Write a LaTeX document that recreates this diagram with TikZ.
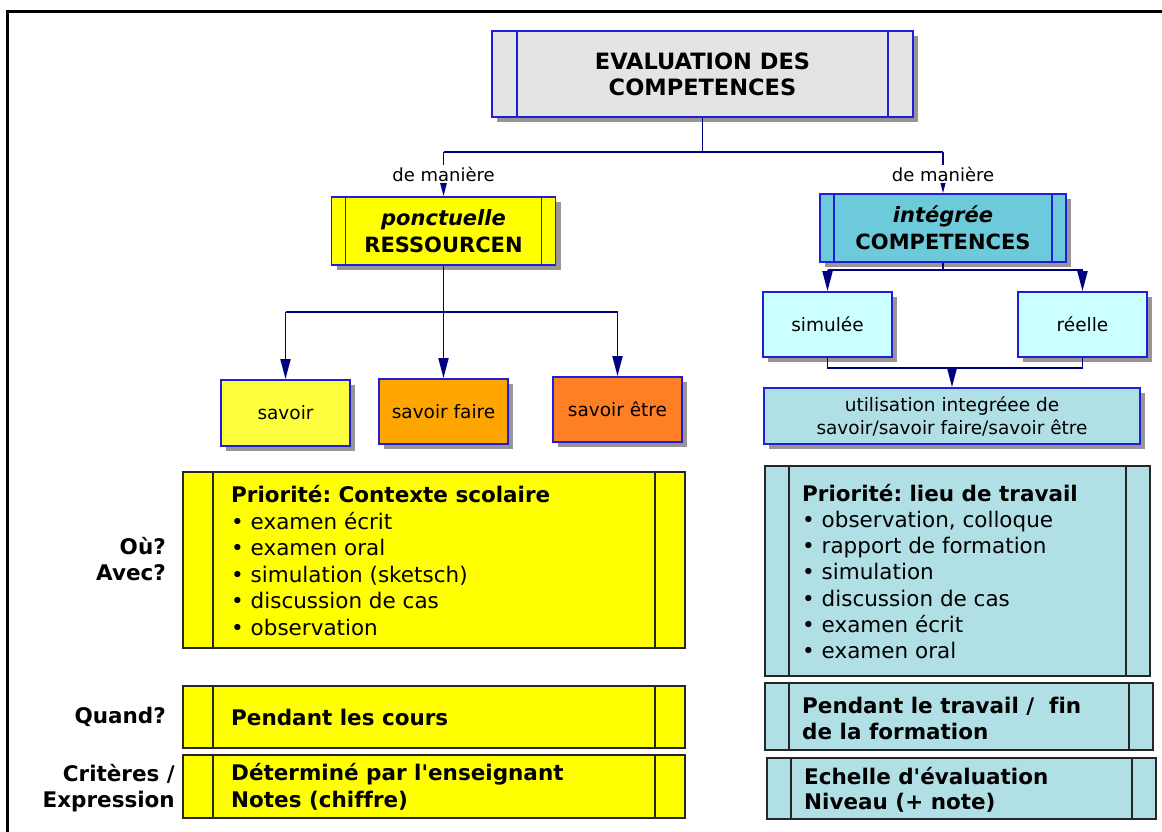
\documentclass[tikz,border=0pt]{standalone}
\usepackage{fontspec}
\setmainfont[Ligatures={NoCommon,TeXOff}]{DejaVu Sans}
\usetikzlibrary{arrows.meta,shadows}
\definecolor{boxblue}{RGB}{30,30,220}
\definecolor{navy}{RGB}{0,0,128}
\definecolor{shade}{RGB}{155,148,148}
\definecolor{titlegray}{RGB}{228,228,228}
\definecolor{ylw}{RGB}{255,255,0}
\definecolor{ylwlight}{RGB}{255,255,64}
\definecolor{orng}{RGB}{255,165,0}
\definecolor{orngred}{RGB}{255,127,36}
\definecolor{tealbox}{RGB}{108,202,218}
\definecolor{paleaqua}{RGB}{204,255,255}
\definecolor{powder}{RGB}{176,224,230}
\newcommand\fsz[2]{\fontsize{#1}{#2}\selectfont}
\frenchspacing

\begin{document}
\begin{tikzpicture}[x=1pt,y=-1pt,
  shadowed/.style={drop shadow={shadow xshift=5pt,shadow yshift=-5pt,fill=shade,opacity=1}},
  bluebox/.style={rectangle,draw=boxblue,line width=1.8pt,shadowed,inner sep=0pt},
  darkbox/.style={rectangle,draw=black!85,line width=1.8pt,inner sep=0pt},
  sized/.style n args={2}{minimum width=#1,minimum height=#2},
  bars/.style n args={2}{path picture={\draw[#2,line width=1.5pt]
      ([xshift=#1]path picture bounding box.north west) -- ([xshift=#1]path picture bounding box.south west)
      ([xshift=-#1]path picture bounding box.north east) -- ([xshift=-#1]path picture bounding box.south east);}},
  conn/.style={draw=navy,line width=1.8pt},
  arr/.style={conn,-{Triangle[length=20pt,width=10pt]}},
  bigtxt/.style={font=\fsz{21}{27}\bfseries,align=center},
  smalltxt/.style={font=\fsz{18.5}{23},align=center},
  listtxt/.style={font=\fsz{21.5}{26.6},align=left,anchor=west,inner sep=0pt},
  asklabel/.style={font=\fsz{21.5}{26}\bfseries,align=right,anchor=east,inner sep=0pt},
  wayLabel/.style={font=\fsz{18}{22},fill=white,inner sep=1.5pt}
]
\useasboundingbox (0,0) rectangle (1162,832);

% outer frame
\draw[line width=3pt] (7,832) -- (7,12) -- (1162,12);

% title
\node[bluebox,sized={421pt}{86pt},fill=titlegray,bars={25pt}{boxblue},bigtxt,font=\fsz{22.5}{26}\bfseries] (top) at (702.5,74) {EVALUATION DES\\COMPETENCES};

% the two ways of assessing
\node[bluebox,sized={224pt}{68pt},fill=ylw,bars={14pt}{boxblue},bigtxt] (ponct) at (443.5,231) {\textit{ponctuelle}\\RESSOURCEN};
\node[bluebox,sized={246pt}{68pt},fill=tealbox,bars={14pt}{boxblue},bigtxt] (integ) at (943,228) {\textit{intégrée}\\COMPETENCES};

% resources
\node[bluebox,sized={129pt}{66pt},fill=ylwlight,smalltxt] (savoir) at (285.5,413) {savoir};
\node[bluebox,sized={129pt}{65pt},fill=orng,smalltxt] (savoirfaire) at (443.5,411.5) {savoir faire};
\node[bluebox,sized={129pt}{65pt},fill=orngred,smalltxt] (savoiretre) at (617.5,409.5) {savoir être};

% competences
\node[bluebox,sized={129pt}{65pt},fill=paleaqua,smalltxt] (simulee) at (827.5,324.5) {simulée};
\node[bluebox,sized={129pt}{65pt},fill=paleaqua,smalltxt] (reelle) at (1082.5,324.5) {réelle};
\node[bluebox,sized={376pt}{56pt},fill=powder,smalltxt] (util) at (952,416) {utilisation integréee de\\savoir/savoir faire/savoir être};

% connectors
\coordinate (j0) at (702.5,152);
\coordinate (jl) at (443.5,152);
\coordinate (jr) at (943,152);
\draw[conn] (top.south) -- (j0);
\draw[conn] (jl) -- (jr);
\draw[arr] (jl) -- (ponct.north);
\draw[arr] (jr) -- (integ.north);
\node[wayLabel] (wl) at (443.5,174) {de manière};
\node[wayLabel] (wr) at (943,174) {de manière};

\coordinate (pl) at (285.5,312);
\coordinate (pr) at (617.5,312);
\draw[conn] (pl) -- (pr);
\draw[arr] (ponct.south) -- (savoirfaire.north);
\draw[arr] (pl) -- (savoir.north);
\draw[arr] (pr) -- (savoiretre.north);

\coordinate (il) at (827.5,270);
\coordinate (ir) at (1082.5,270);
\coordinate (ic) at (943,270);
\draw[conn] (integ.south) -- (ic);
\draw[conn] (il) -- (ir);
\draw[arr] (il) -- (simulee.north);
\draw[arr] (ir) -- (reelle.north);

\coordinate (ml) at (827.5,368);
\coordinate (mr) at (1082.5,368);
\coordinate (mc) at (952,368);
\draw[conn] (simulee.south) -- (ml) -- (mr) -- (reelle.south);
\draw[arr] (mc) -- (util.north);

% school context
\node[darkbox,sized={502pt}{176pt},fill=ylw,bars={30pt}{black!85}] (lwhere) at (434,560) {};
\node[listtxt] (lwheretxt) at (231,560.5) {\textbf{Priorité: Contexte scolaire}\\• examen écrit\\• examen oral\\• simulation (sketsch)\\• discussion de cas\\• observation};
\node[darkbox,sized={502pt}{62pt},fill=ylw,bars={30pt}{black!85}] (lwhen) at (434,717) {};
\node[listtxt,font=\fsz{21.5}{26.6}\bfseries] (lwhentxt) at (231,717) {Pendant les cours};
\node[darkbox,sized={502pt}{63pt},fill=ylw,bars={30pt}{black!85}] (lcrit) at (434,786.5) {};
\node[listtxt,font=\fsz{21.5}{26.6}\bfseries] (lcrittxt) at (231,787) {Déterminé par l'enseignant\\Notes (chiffre)};

% work context
\node[darkbox,sized={385pt}{210pt},fill=powder,bars={24pt}{black!85}] (rwhere) at (957.5,571) {};
\node[listtxt,font=\fsz{21.5}{26.2}] (rwheretxt) at (802,571.5) {\textbf{Priorité: lieu de travail}\\• observation, colloque\\• rapport de formation\\• simulation\\• discussion de cas\\• examen écrit\\• examen oral};
\node[darkbox,sized={388pt}{67pt},fill=powder,bars={24pt}{black!85}] (rwhen) at (959,716.5) {};
\node[listtxt,font=\fsz{21.5}{26}\bfseries] (rwhentxt) at (802,718) {Pendant le travail /~ fin\\de la formation};
\node[darkbox,sized={389pt}{61pt},fill=powder,bars={24pt}{black!85}] (rcrit) at (961.5,788.5) {};
\node[listtxt,font=\fsz{21.5}{25}\bfseries] (rcrittxt) at (804,789.5) {Echelle d'évaluation\\Niveau (+ note)};

% row questions
\node[asklabel] (qwhere) at (166,559.5) {Où?\\Avec?};
\node[asklabel] (qwhen) at (166,717) {Quand?};
\node[asklabel] (qcrit) at (175,788) {Critères /\\Expression};
\end{tikzpicture}
\end{document}
